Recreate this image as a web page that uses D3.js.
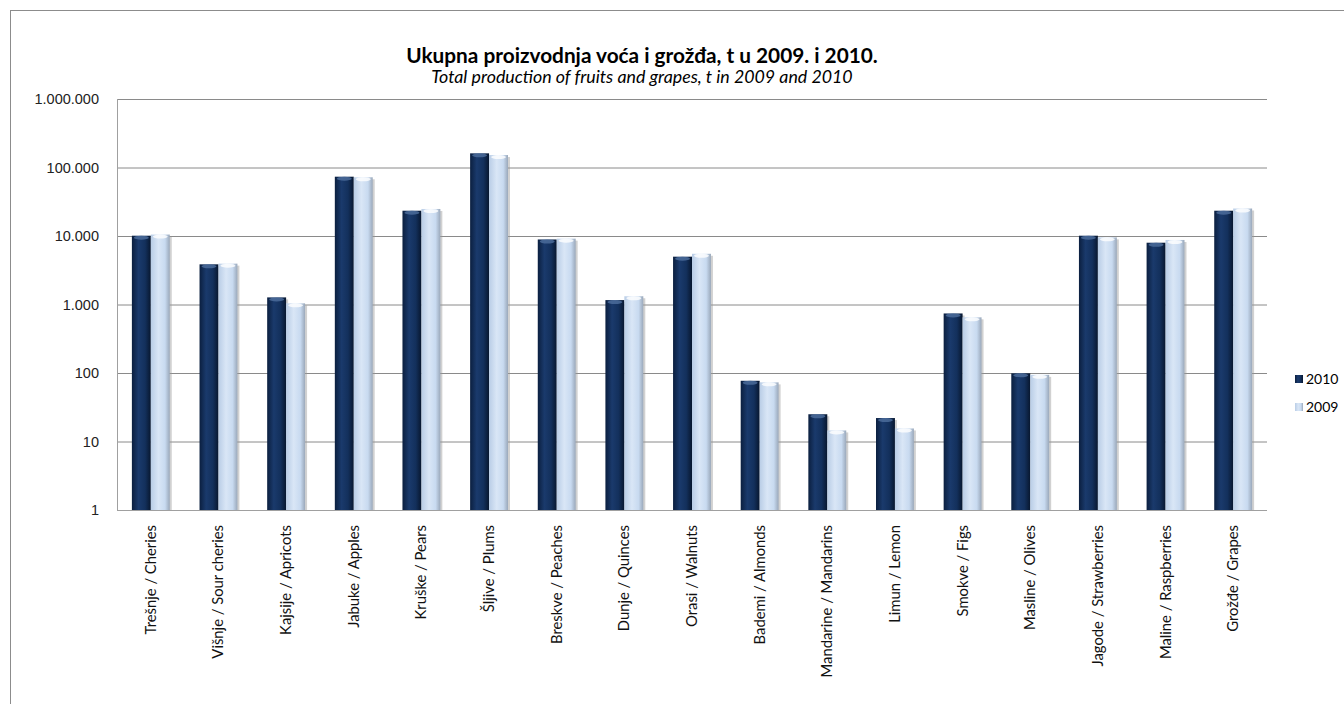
<!DOCTYPE html>
<html>
<head>
<meta charset="utf-8">
<script src="https://cdn.jsdelivr.net/npm/d3@7"></script>
<style>
  body { margin: 0; background: #fff; }
  svg { display: block; }
  .tick text { font-family: "Liberation Sans", Arial, sans-serif; font-size: 14.5px; fill: #222; }
  .cat { font-family: Lato, "Open Sans", sans-serif; font-size: 14.8px; fill: #111; }
</style>
</head>
<body>
<div id="chart"></div>
<script>
// categories and values (t)
const categories = [
  "Trešnje / Cheries", "Višnje / Sour cheries", "Kajsije / Apricots", "Jabuke / Apples",
  "Kruške / Pears", "Šljive / Plums", "Breskve / Peaches", "Dunje / Quinces",
  "Orasi / Walnuts", "Bademi / Almonds", "Mandarine / Mandarins", "Limun / Lemon",
  "Smokve / Figs", "Masline / Olives", "Jagode / Strawberries", "Maline / Raspberries",
  "Grožđe / Grapes"
];
const values2010 = [10100, 3860, 1270, 73400, 23400, 161000, 8900, 1160, 4990, 77, 25, 22, 740, 99, 10100, 7980, 23400];
const values2009 = [10500, 3950, 1040, 72000, 24800, 152000, 9150, 1320, 5500, 73, 14.5, 15.5, 650, 94, 9550, 8750, 25200];
const seriesNames = ["2010", "2009"];
const yTicks = [1, 10, 100, 1000, 10000, 100000, 1000000];

const width = 1344, height = 704;
const margin = { left: 117, right: 77, top: 99, bottom: 194 };

const svg = d3.select("#chart").append("svg")
  .attr("width", width)
  .attr("height", height);

const defs = svg.append("defs");
const grad = (id, stops) => {
  const g = defs.append("linearGradient").attr("id", id)
    .attr("x1", "0%").attr("x2", "100%").attr("y1", "0%").attr("y2", "0%");
  stops.forEach(s => g.append("stop").attr("offset", s[0]).attr("stop-color", s[1]));
};
grad("g2010", [["0%", "#0b1f3f"], ["35%", "#1a3a6c"], ["70%", "#13305c"], ["100%", "#08172f"]]);
grad("g2009", [["0%", "#b9cde6"], ["40%", "#d9e6f6"], ["75%", "#c8daf0"], ["100%", "#9aa8ba"]]);

// outer frame
svg.append("rect")
  .attr("x", 10.5).attr("y", 10.5)
  .attr("width", width).attr("height", height)
  .attr("fill", "none").attr("stroke", "#8c8c8c").attr("stroke-width", 1);

const x0 = d3.scaleBand()
  .domain(categories)
  .range([margin.left, width - margin.right])
  .paddingInner(0.44).paddingOuter(0.22);

const x1 = d3.scaleBand()
  .domain(seriesNames)
  .range([0, x0.bandwidth()]);

const y = d3.scaleLog()
  .domain([1, 1000000])
  .range([height - margin.bottom, margin.top]);

const fmt = d3.format(",");
const yAxis = d3.axisLeft(y)
  .tickValues(yTicks)
  .tickSize(-(width - margin.left - margin.right))
  .tickPadding(18)
  .tickFormat(d => fmt(d).replace(/,/g, "."));

svg.append("g")
  .attr("transform", `translate(${margin.left},0)`)
  .call(yAxis)
  .call(g => g.select(".domain").remove())
  .call(g => g.selectAll(".tick line").attr("stroke", "#8a8a8a"));

// left axis line
svg.append("line")
  .attr("x1", margin.left + 0.5).attr("x2", margin.left + 0.5)
  .attr("y1", margin.top).attr("y2", height - margin.bottom)
  .attr("stroke", "#a0a0a0");

// bars
const data = categories.map((c, i) => ({ cat: c, vals: [values2010[i], values2009[i]] }));
const groups = svg.selectAll(".grp")
  .data(data)
  .enter()
  .append("g")
  .attr("class", "grp")
  .attr("transform", d => `translate(${x0(d.cat)},0)`);

groups.selectAll("rect.shadow")
  .data(d => d.vals.map((v, k) => ({ v, s: seriesNames[k] })))
  .enter()
  .append("rect")
  .attr("class", "shadow")
  .attr("x", d => x1(d.s) + 2)
  .attr("y", d => y(d.v) + 2)
  .attr("width", x1.bandwidth())
  .attr("height", d => y(1) - y(d.v) - 1)
  .attr("fill", "#9a9a9a")
  .attr("opacity", 0.45);

groups.selectAll("rect.bar")
  .data(d => d.vals.map((v, k) => ({ v, s: seriesNames[k] })))
  .enter()
  .append("rect")
  .attr("class", "bar")
  .attr("x", d => x1(d.s))
  .attr("y", d => y(d.v))
  .attr("width", x1.bandwidth())
  .attr("height", d => y(1) - y(d.v))
  .attr("fill", d => d.s === "2010" ? "url(#g2010)" : "url(#g2009)");

// top caps
groups.selectAll("ellipse.cap")
  .data(d => d.vals.map((v, k) => ({ v, s: seriesNames[k] })))
  .enter()
  .append("ellipse")
  .attr("class", "cap")
  .attr("cx", d => x1(d.s) + x1.bandwidth() / 2)
  .attr("cy", d => y(d.v) + 2)
  .attr("rx", x1.bandwidth() / 2 - 2)
  .attr("ry", 2)
  .attr("fill", d => d.s === "2010" ? "#4f6f9e" : "#ffffff")
  .attr("opacity", 0.8);

// bottom axis line
svg.append("line")
  .attr("x1", margin.left).attr("x2", width - margin.right)
  .attr("y1", y(1) + 0.5).attr("y2", y(1) + 0.5)
  .attr("stroke", "#a0a0a0");

// category labels
svg.selectAll(".cat")
  .data(categories)
  .enter()
  .append("text")
  .attr("class", "cat")
  .attr("text-anchor", "end")
  .attr("transform", d => `translate(${x0(d) + x0.bandwidth() / 2 + 5},${y(1) + 15}) rotate(-90)`)
  .text(d => d);

// title
svg.append("text")
  .attr("x", 642).attr("y", 63)
  .attr("text-anchor", "middle")
  .style("font-family", "Lato, sans-serif")
  .style("font-weight", "bold")
  .style("font-size", "20.8px")
  .text("Ukupna proizvodnja voća i grožđa, t u 2009. i 2010.");
svg.append("text")
  .attr("x", 642).attr("y", 83)
  .attr("text-anchor", "middle")
  .style("font-family", "Lato, sans-serif")
  .style("font-style", "italic")
  .style("font-size", "17.8px")
  .text("Total production of fruits and grapes, t in 2009 and 2010");

// legend
const legend = svg.selectAll(".leg")
  .data(seriesNames)
  .enter()
  .append("g")
  .attr("class", "leg")
  .attr("transform", (d, i) => `translate(1295,${375 + i * 28})`);
legend.append("rect")
  .attr("width", 8).attr("height", 8)
  .attr("fill", d => d === "2010" ? "url(#g2010)" : "url(#g2009)");
legend.append("text")
  .attr("x", 11).attr("y", 9)
  .style("font-family", "Lato, sans-serif")
  .style("font-size", "14px")
  .text(d => d);
</script>
</body>
</html>
